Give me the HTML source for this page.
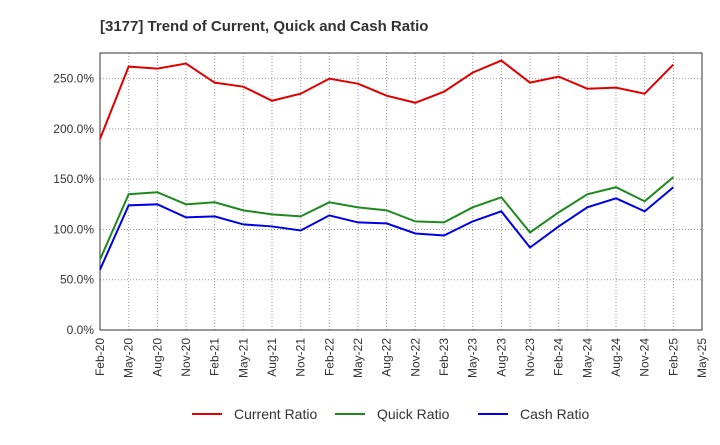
<!DOCTYPE html>
<html><head><meta charset="utf-8"><style>
body{margin:0;background:#fff;font-family:"Liberation Sans",sans-serif;}
</style></head><body>
<svg id="c" width="720" height="440" xmlns="http://www.w3.org/2000/svg">
<text x="100" y="31" font-size="15" font-weight="bold" fill="#333">[3177]  Trend of Current, Quick and Cash Ratio</text>
<g id="grid"></g><g id="axes"></g><g id="series"></g><g id="legend"></g>
</svg>
<script>
const categories=["Feb-20","May-20","Aug-20","Nov-20","Feb-21","May-21","Aug-21","Nov-21","Feb-22","May-22","Aug-22","Nov-22","Feb-23","May-23","Aug-23","Nov-23","Feb-24","May-24","Aug-24","Nov-24","Feb-25","May-25"];
const currentRatio=[190,262,260,265,246,242,228,235,250,245,233,226,237,256,268,246,252,240,241,235,264];
const quickRatio=[70,135,137,125,127,119,115,113,127,122,119,108,107,122,132,97,117,135,142,128,152];
const cashRatio=[60,124,125,112,113,105,103,99,114,107,106,96,94,108,118,82,103,122,131,118,142];
const yTicks=[0,50,100,150,200,250];
const yTickLabels=["0.0%","50.0%","100.0%","150.0%","200.0%","250.0%"];
const L=100,R=702,T=53,B=330,YMAX=275.5;
const ns="http://www.w3.org/2000/svg";
const x=i=>L+(R-L)*i/(categories.length-1);
const y=v=>B-(B-T)*v/YMAX;
function mk(tag,attrs,parent){const e=document.createElementNS(ns,tag);for(const k in attrs)e.setAttribute(k,attrs[k]);document.getElementById(parent).appendChild(e);return e;}
categories.forEach((c,i)=>{
 const g=mk("line",{x1:x(i),x2:x(i),y1:T,y2:B,stroke:"#999","stroke-dasharray":"1,2","stroke-width":1},"grid");
 
 
 const t=mk("text",{x:0,y:0,"font-size":12,fill:"#333","text-anchor":"end",transform:`translate(${x(i)+4},${B+8}) rotate(-90)`},"axes");
 t.textContent=c;
 
 
});
yTicks.forEach((v,i)=>{
 const g=mk("line",{x1:L,x2:R,y1:y(v),y2:y(v),stroke:"#999","stroke-dasharray":"1,2","stroke-width":1},"grid");
 
 
 const t=mk("text",{x:L-6,y:y(v)+4,"font-size":12,fill:"#333","text-anchor":"end"},"axes");
 t.textContent=yTickLabels[i];
 
 
});
const frame=mk("rect",{x:L,y:T,width:R-L,height:B-T,fill:"none",stroke:"#333","stroke-width":1},"axes");


const series=[["current-ratio-line",currentRatio,"#e00000","Current Ratio"],["quick-ratio-line",quickRatio,"#1e8a1e","Quick Ratio"],["cash-ratio-line",cashRatio,"#0000e6","Cash Ratio"]];
series.forEach(([n,d,col])=>{
 const p=mk("polyline",{points:d.map((v,i)=>x(i)+","+y(v)).join(" "),fill:"none",stroke:col,"stroke-width":2},"series");
 
 
});
const lx=[192,335,478];
series.forEach(([n,d,col,lab],i)=>{
 const l=mk("line",{x1:lx[i],x2:lx[i]+30,y1:414,y2:414,stroke:col,"stroke-width":2},"legend");
 
 
 const t=mk("text",{x:lx[i]+42,y:419,"font-size":14,fill:"#333"},"legend");
 t.textContent=lab;
 
 
});
</script>
</body></html>
